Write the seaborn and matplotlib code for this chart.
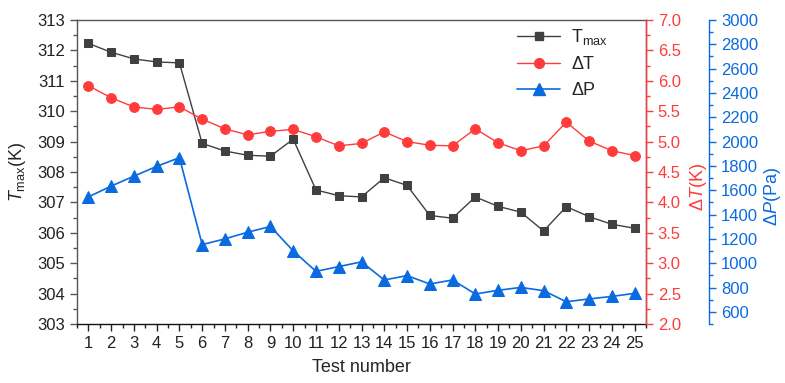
import pandas as pd
import seaborn as sns
from matplotlib import pyplot as plt
from matplotlib.ticker import MultipleLocator, FormatStrFormatter
from matplotlib.lines import Line2D

# values
test_number = list(range(1, 26))
t_max = [312.23, 311.94, 311.72, 311.62, 311.59, 308.94, 308.69, 308.55, 308.52, 309.08,
         307.41, 307.22, 307.18, 307.81, 307.56, 306.57, 306.48, 307.18, 306.87, 306.68,
         306.06, 306.86, 306.53, 306.28, 306.15]
delta_t = [5.92, 5.72, 5.57, 5.53, 5.57, 5.37, 5.21, 5.11, 5.17, 5.20,
           5.08, 4.93, 4.97, 5.16, 5.00, 4.94, 4.93, 5.21, 4.98, 4.85,
           4.93, 5.32, 5.01, 4.85, 4.77]
delta_p = [1545, 1634, 1716, 1796, 1868, 1153, 1200, 1255, 1302, 1101,
           933, 972, 1011, 862, 898, 829, 862, 747, 777, 801,
           774, 683, 706, 727, 752]

BLACK = '#404040'
RED = '#ff3b3b'
BLUE = '#0a6adf'

sns.set_style('ticks')
plt.rcParams['font.family'] = ['Liberation Sans', 'DejaVu Sans']
plt.rcParams['mathtext.fontset'] = 'custom'
plt.rcParams['mathtext.rm'] = 'Liberation Sans'
plt.rcParams['mathtext.it'] = 'Liberation Sans:italic'

df = pd.DataFrame({'test': test_number, 'tmax': t_max, 'dt': delta_t, 'dp': delta_p})

fig = plt.figure(figsize=(7.85, 3.83), dpi=100)
ax = fig.add_axes([77 / 785, 1 - 324 / 383, 569 / 785, 304 / 383])
ax2 = ax.twinx()
ax3 = ax.twinx()

sns.lineplot(data=df, x='test', y='tmax', ax=ax, color=BLACK, marker='s', markersize=6,
             markeredgecolor=BLACK, linewidth=1, legend=False)
sns.lineplot(data=df, x='test', y='dt', ax=ax2, color=RED, marker='o', markersize=7,
             markeredgecolor=RED, linewidth=1, legend=False)
sns.lineplot(data=df, x='test', y='dp', ax=ax3, color=BLUE, marker='^', markersize=8,
             markeredgecolor=BLUE, linewidth=1.2, legend=False)

# x axis
ax.set_xlim(0.5, 25.5)
ax.set_xticks(test_number)
ax.xaxis.set_minor_locator(MultipleLocator(0.5))
ax.set_xlabel('Test number', fontsize=13, labelpad=6)

# left axis
ax.set_ylim(303, 313)
ax.yaxis.set_major_locator(MultipleLocator(1))
ax.yaxis.set_minor_locator(MultipleLocator(0.5))
ax.set_ylabel(r'$T_{\rm max}$(K)', fontsize=13)
ax.yaxis.set_label_coords(-0.086, 0.5)

# red axis
ax2.set_ylim(2.0, 7.0)
ax2.yaxis.set_major_locator(MultipleLocator(0.5))
ax2.yaxis.set_minor_locator(MultipleLocator(0.25))
ax2.yaxis.set_major_formatter(FormatStrFormatter('%.1f'))
ax2.set_ylabel(r'Δ$T$(K)', fontsize=13, color=RED)
ax2.yaxis.set_label_coords(1.074, 0.45)

# blue axis
ax3.spines['right'].set_position(('axes', 1.111))
ax3.set_ylim(500, 3000)
ax3.yaxis.set_major_locator(MultipleLocator(200))
ax3.yaxis.set_minor_locator(MultipleLocator(100))
ax3.set_ylabel(r'Δ$P$(Pa)', fontsize=13, color=BLUE)
ax3.yaxis.set_label_coords(1.203, 0.42)

for a in (ax, ax2, ax3):
    a.tick_params(which='major', length=5, width=1, labelsize=12, direction='out')
    a.tick_params(which='minor', length=3, width=1, direction='out')

ax.tick_params(colors='#222222', which='both')
ax.tick_params(axis='y', colors='#555555', which='both', labelcolor='#222222')
ax2.tick_params(axis='y', colors=RED, which='both')
ax3.tick_params(axis='y', colors=BLUE, which='both')

for name, spine in ax.spines.items():
    spine.set_linewidth(1)
    spine.set_color('#555555')
ax.spines['bottom'].set_color('#111111')
for a in (ax2, ax3):
    for name in ('left', 'top', 'bottom'):
        a.spines[name].set_visible(False)
ax2.spines['right'].set_color(RED)
ax2.spines['right'].set_linewidth(1)
ax3.spines['right'].set_color(BLUE)
ax3.spines['right'].set_linewidth(1)

handles = [
    Line2D([], [], color=BLACK, marker='s', markersize=6, linewidth=1),
    Line2D([], [], color=RED, marker='o', markersize=7, linewidth=1),
    Line2D([], [], color=BLUE, marker='^', markersize=8, linewidth=1.2),
]
labels = [r'T$_{\rm max}$', 'ΔT', 'ΔP']
ax3.legend(handles, labels, loc='upper left', bbox_to_anchor=(0.745, 1.03), frameon=False,
           fontsize=13, handlelength=2.4, labelspacing=0.5, handletextpad=0.6)

fig.savefig('out.png', dpi=100)
